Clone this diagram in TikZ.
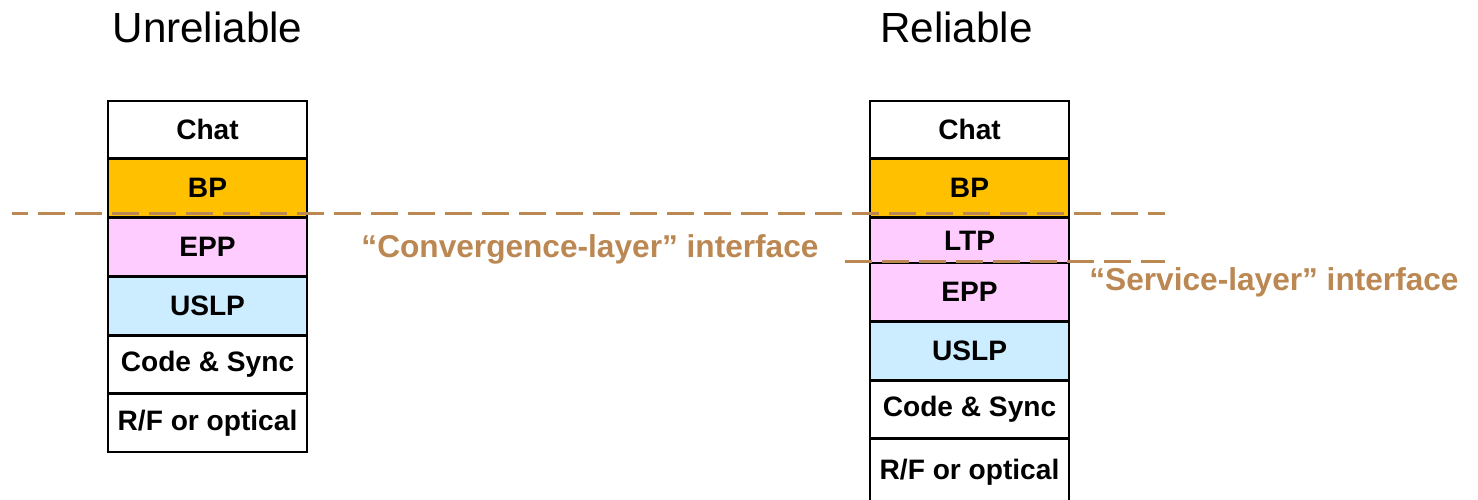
\documentclass[tikz,border=0pt]{standalone}
\usepackage{fontspec}
\setmainfont{Liberation Sans}
\usepackage{tikz}
\usetikzlibrary{positioning}
\usepackage{xcolor}
\definecolor{bpgold}{RGB}{255,192,0}
\definecolor{epppink}{RGB}{255,204,255}
\definecolor{uslpblue}{RGB}{204,236,255}
\definecolor{ifbrown}{RGB}{187,136,83}
\tikzstyle{layer} = [draw, line width=1pt, minimum width=3.98cm, minimum height=1.15cm, inner sep=0pt, outer sep=0pt, font=\fontsize{16}{19}\selectfont\bfseries]
\tikzstyle{iface} = [color=ifbrown, line width=1.7pt, dash pattern=on 0.54cm off 0.2cm, dash phase=0.22cm]
\tikzstyle{ifacelabel} = [color=ifbrown, font=\fontsize{18}{22}\selectfont\bfseries]

\begin{document}
\begin{tikzpicture}
\useasboundingbox (0,0) rectangle (29.56,-9.98);

% Titles
\node[font=\fontsize{24}{28}\selectfont] (utitle) at (4.15,-0.54) {Unreliable};
\node[font=\fontsize{24}{28}\selectfont] (rtitle) at (19.13,-0.54) {Reliable};

% Unreliable stack
\node[layer] (uchat) at (4.15,-2.59) {Chat};
\node[layer, fill=bpgold, below=0.025cm of uchat] (ubp) {BP};
\node[layer, fill=epppink, below=0.025cm of ubp] (uepp) {EPP};
\node[layer, fill=uslpblue, below=0.025cm of uepp] (uuslp) {USLP};
\node[layer, below=0.025cm of uuslp] (ucode) {Code \& Sync};
\node[layer, below=0.025cm of ucode] (urf) {R/F or optical};

% Reliable stack (runs off the bottom edge)
\node[layer] (rchat) at (19.39,-2.59) {Chat};
\node[layer, fill=bpgold, below=0.025cm of rchat] (rbp) {BP};
\node[layer, fill=epppink, minimum height=0.9cm, below=0.025cm of rbp] (rltp) {LTP};
\node[layer, fill=epppink, below=0cm of rltp] (repp) {EPP};
\node[layer, fill=uslpblue, below=0.025cm of repp] (ruslp) {USLP};
\node[layer, below=0.025cm of ruslp] (rcode) {Code \& Sync};
\node[layer, minimum height=1.3cm, below=0.025cm of rcode] (rrf) {R/F or optical};

% Interfaces
\coordinate (clstart) at (0.24,-4.26);
\coordinate (clend) at (23.3,-4.26);
\coordinate (slstart) at (16.9,-5.22);
\coordinate (slend) at (23.3,-5.22);
\draw[iface] (clstart) -- (clend);
\draw[iface, dash phase=0cm] (slstart) -- (slend);

\node[ifacelabel] (cllabel) at (11.8,-4.98) {“Convergence-layer” interface};
\node[ifacelabel] (sllabel) at (25.48,-5.64) {“Service-layer” interface};
\end{tikzpicture}
\end{document}
